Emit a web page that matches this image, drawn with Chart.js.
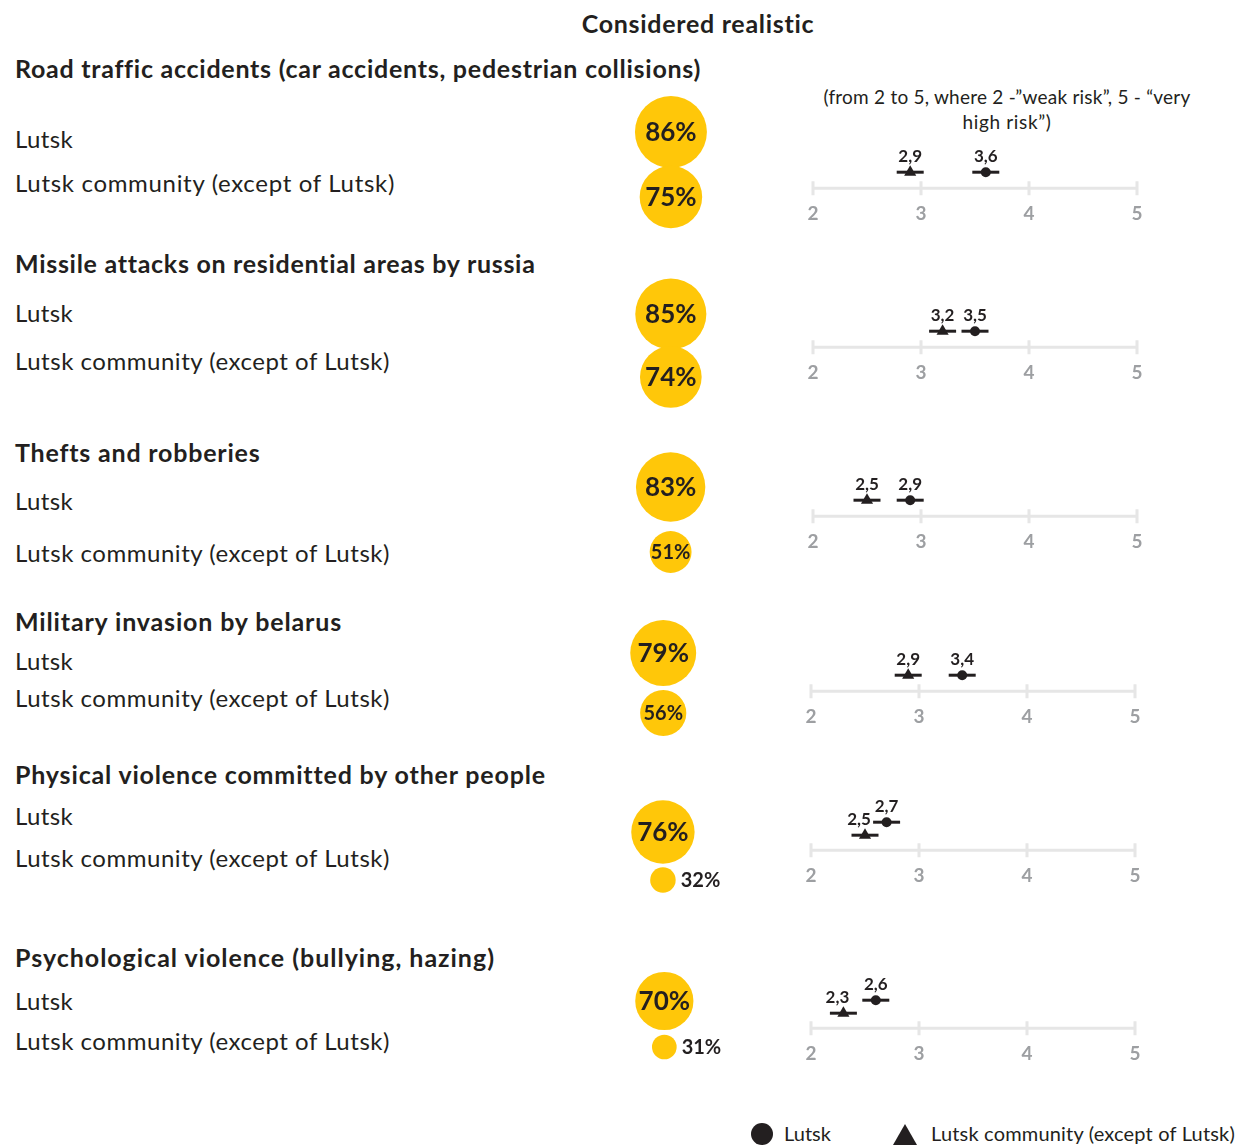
<!DOCTYPE html>
<html><head><meta charset="utf-8">
<script src="https://cdn.jsdelivr.net/npm/chart.js@4.4.0/dist/chart.umd.min.js"></script>
<style>
html,body{margin:0;padding:0;background:#fff;}
#page{position:relative;width:1239px;height:1146px;overflow:hidden;font-family:Lato,"Noto Sans",sans-serif;color:#231f20;}
.t{position:absolute;white-space:nowrap;line-height:1.2;left:0;top:0;}
canvas{position:absolute;}
.lg-dot{position:absolute;left:751px;top:1123px;width:22px;height:22px;border-radius:50%;background:#231f20;}
.lg-tri{position:absolute;left:893px;top:1124px;width:0;height:0;border-left:12px solid transparent;border-right:12px solid transparent;border-bottom:21px solid #231f20;}
</style></head><body><div id="page"></div>
<script>
// ---------- DATA ----------
const chartTitle = 'Considered realistic';
const scaleNote = ['(from 2 to 5, where 2 -\u201dweak risk\u201d, 5 - \u201cvery', 'high risk\u201d)'];
const risks = [
  'Road traffic accidents (car accidents, pedestrian collisions)',
  'Missile attacks on residential areas by russia',
  'Thefts and robberies',
  'Military invasion by belarus',
  'Physical violence committed by other people',
  'Psychological violence (bullying, hazing)'
];
const groups = ['Lutsk', 'Lutsk community (except of Lutsk)'];
const realisticLutsk = [86, 85, 83, 79, 76, 70];
const realisticCommunity = [75, 74, 51, 56, 32, 31];
const scoreLutsk = [3.6, 3.5, 2.9, 3.4, 2.7, 2.6];
const scoreCommunity = [2.9, 3.2, 2.5, 2.9, 2.5, 2.3];
const scoreTicks = [2, 3, 4, 5];

// ---------- LAYOUT ----------
const headBase = [78, 273, 462, 631, 784, 967];
const rowBase = [[148, 192], [322, 370], [510, 562], [670, 707], [825, 867], [1010, 1050]];
const rowW = [[58, 380], [58, 375], [58, 375], [58, 375], [58, 375], [58, 375]];
const headW = [685, 520, 245, 327, 530, 480];
const bubbleY = [[132, 197], [314, 377], [487, 552], [653, 713], [832, 880], [1001, 1047]];
const bubbleX = [671, 671, 671, 663, 663, 664];
const axisY = [188, 347, 516, 691, 850, 1028];
const axisX = [813, 813, 813, 811, 811, 811];
const stagger = [false, false, false, false, true, true];
const DARK = '#231f20', YELLOW = '#FFC709', AXIS = '#e6e6e6', TICK = '#9d9fa2';
const FONT = 'Lato';

const page = document.getElementById('page');

function place(str, x, base, size, weight, target, align, color) {
  const d = document.createElement('div');
  d.className = 't';
  d.style.fontSize = size + 'px';
  d.style.fontWeight = weight;
  if (color) d.style.color = color;
  const s = document.createElement('span');
  s.textContent = str;
  const m = document.createElement('span');
  m.style.cssText = 'display:inline-block;width:0;height:0;vertical-align:baseline;';
  d.appendChild(s); d.appendChild(m);
  page.appendChild(d);
  if (target) {
    const w0 = s.getBoundingClientRect().width;
    s.style.letterSpacing = ((target - w0) / str.length) + 'px';
  }
  const w = s.getBoundingClientRect().width;
  const b = m.offsetTop;
  let left = x;
  if (align === 'center') left = x - w / 2;
  d.style.left = left + 'px';
  d.style.top = (base - b) + 'px';
  return d;
}

// title & note
place(chartTitle, 698, 33, 25, 700, 233, 'center');
place(scaleNote[0], 1007, 104, 19, 400, 367, 'center');
place(scaleNote[1], 1007, 129, 19, 400, 89, 'center');

// headings & row labels
risks.forEach((r, s) => {
  place(r, 15, headBase[s], 25, 700, headW[s]);
  place(groups[0], 15, rowBase[s][0], 24, 400, rowW[s][0]);
  place(groups[1], 15, rowBase[s][1], 24, 400, rowW[s][1]);
});

// legend
const ld = document.createElement('div'); ld.className = 'lg-dot'; page.appendChild(ld);
const lt = document.createElement('div'); lt.className = 'lg-tri'; page.appendChild(lt);
place(groups[0], 784, 1141, 20, 400, 47);
place(groups[1], 931, 1141, 20, 400, 304);

// ---------- BUBBLES ----------
const bubbleLabels = {
  id: 'bubbleLabels',
  afterDatasetsDraw(chart) {
    const ctx = chart.ctx;
    const ds = chart.data.datasets[0];
    chart.getDatasetMeta(0).data.forEach((el, i) => {
      const v = ds.data[i].v;
      const r = el.options.radius;
      ctx.save();
      ctx.fillStyle = DARK;
      ctx.textBaseline = 'middle';
      if (r < 16) {
        ctx.font = `bold 20px ${FONT}`;
        ctx.textAlign = 'left';
        ctx.fillText(v + '%', el.x + r + 5, el.y + 1);
      } else {
        ctx.font = `bold ${v >= 60 ? 26 : 20}px ${FONT}`;
        ctx.textAlign = 'center';
        ctx.fillText(v + '%', el.x, el.y + 1);
      }
      ctx.restore();
    });
  }
};

function bubbleR(v) { return v * 0.43 - 1; }

risks.forEach((r, s) => {
  const cv = document.createElement('canvas');
  const span = bubbleY[s][1] - bubbleY[s][0];
  cv.width = 220; cv.height = span + 100;
  page.appendChild(cv);
  const vals = [realisticLutsk[s], realisticCommunity[s]];
  const chart = new Chart(cv, {
    type: 'bubble',
    data: {
      datasets: [{
        data: vals.map((v, i) => ({ x: 0, y: i, r: bubbleR(v), v })),
        backgroundColor: YELLOW, borderWidth: 0, hoverBorderWidth: 0, clip: false
      }]
    },
    options: {
      responsive: false, animation: false, events: [],
      layout: { padding: { top: 50, bottom: 50, left: 0, right: 0 } },
      plugins: { legend: { display: false }, tooltip: { enabled: false } },
      scales: {
        x: { type: 'linear', min: -1, max: 1.6, display: false },
        y: { type: 'linear', min: 0, max: 1, reverse: true, display: false }
      }
    },
    plugins: [bubbleLabels]
  });
  cv.style.left = (bubbleX[s] - chart.scales.x.getPixelForValue(0)) + 'px';
  cv.style.top = (bubbleY[s][0] - chart.scales.y.getPixelForValue(0)) + 'px';
});

// ---------- SCORE DOT PLOTS ----------
const axisPlugin = {
  id: 'axisPlugin',
  beforeDatasetsDraw(chart) {
    const x = chart.scales.x, y = chart.scales.y, ctx = chart.ctx;
    const y0 = y.getPixelForValue(0);
    ctx.save();
    ctx.strokeStyle = AXIS; ctx.lineWidth = 3;
    ctx.beginPath();
    ctx.moveTo(x.getPixelForValue(scoreTicks[0]), y0);
    ctx.lineTo(x.getPixelForValue(scoreTicks[scoreTicks.length - 1]), y0);
    scoreTicks.forEach(t => {
      const px = x.getPixelForValue(t);
      ctx.moveTo(px, y0 - 7); ctx.lineTo(px, y0 + 7);
    });
    ctx.stroke();
    ctx.restore();
  },
  afterDatasetsDraw(chart) {
    const ctx = chart.ctx;
    const staggered = chart.options.plugins.axisPlugin.staggered;
    [2, 3].forEach(di => {
      const ds = chart.data.datasets[di];
      chart.getDatasetMeta(di).data.forEach((el, i) => {
        ctx.save();
        ctx.fillStyle = DARK;
        ctx.font = `bold 17px ${FONT}`;
        ctx.textAlign = 'center'; ctx.textBaseline = 'middle';
        const dx = (staggered && di === 3) ? -6 : 0;
        ctx.fillText(String(ds.data[i].x).replace('.', ','), el.x + dx, el.y - 16);
        ctx.restore();
      });
    });
  }
};

risks.forEach((r, s) => {
  const cv = document.createElement('canvas');
  cv.width = 384; cv.height = 116;
  page.appendChild(cv);
  const yL = stagger[s] ? 28 : 16;
  const yC = stagger[s] ? 15 : 16;
  const lutskPt = [{ x: scoreLutsk[s], y: yL }];
  const commPt = [{ x: scoreCommunity[s], y: yC }];
  const chart = new Chart(cv, {
    type: 'scatter',
    data: {
      datasets: [
        { label: 'Lutsk bar', data: lutskPt, pointStyle: 'line', pointRadius: 13.5, pointBorderWidth: 3, pointBorderColor: DARK, clip: false },
        { label: 'Community bar', data: commPt, pointStyle: 'line', pointRadius: 13.5, pointBorderWidth: 3, pointBorderColor: DARK, clip: false },
        { label: groups[0], data: lutskPt, pointStyle: 'circle', pointRadius: 5, pointBorderWidth: 0, pointBackgroundColor: DARK, clip: false },
        { label: groups[1], data: commPt, pointStyle: 'triangle', pointRadius: 7, pointBorderWidth: 0, pointBackgroundColor: DARK, clip: false }
      ]
    },
    options: {
      responsive: false, animation: false, events: [],
      layout: { padding: { top: 8, bottom: 4, left: 30, right: 30 } },
      plugins: { legend: { display: false }, tooltip: { enabled: false }, axisPlugin: { staggered: stagger[s] } },
      scales: {
        x: {
          type: 'linear', min: 2, max: 5,
          afterBuildTicks: sc => { sc.ticks = scoreTicks.map(v => ({ value: v })); },
          grid: { display: false, drawTicks: false, tickLength: 0 },
          border: { display: false },
          ticks: { color: TICK, padding: 14, font: { family: FONT, weight: 'bold', size: 19 } }
        },
        y: { type: 'linear', min: 0, max: 60, display: false }
      }
    },
    plugins: [axisPlugin]
  });
  chart.options.scales.y.max = chart.chartArea.bottom - chart.chartArea.top;
  chart.update('none');
  cv.style.left = (axisX[s] - chart.scales.x.getPixelForValue(scoreTicks[0])) + 'px';
  cv.style.top = (axisY[s] - chart.scales.y.getPixelForValue(0)) + 'px';
});
</script></body></html>
